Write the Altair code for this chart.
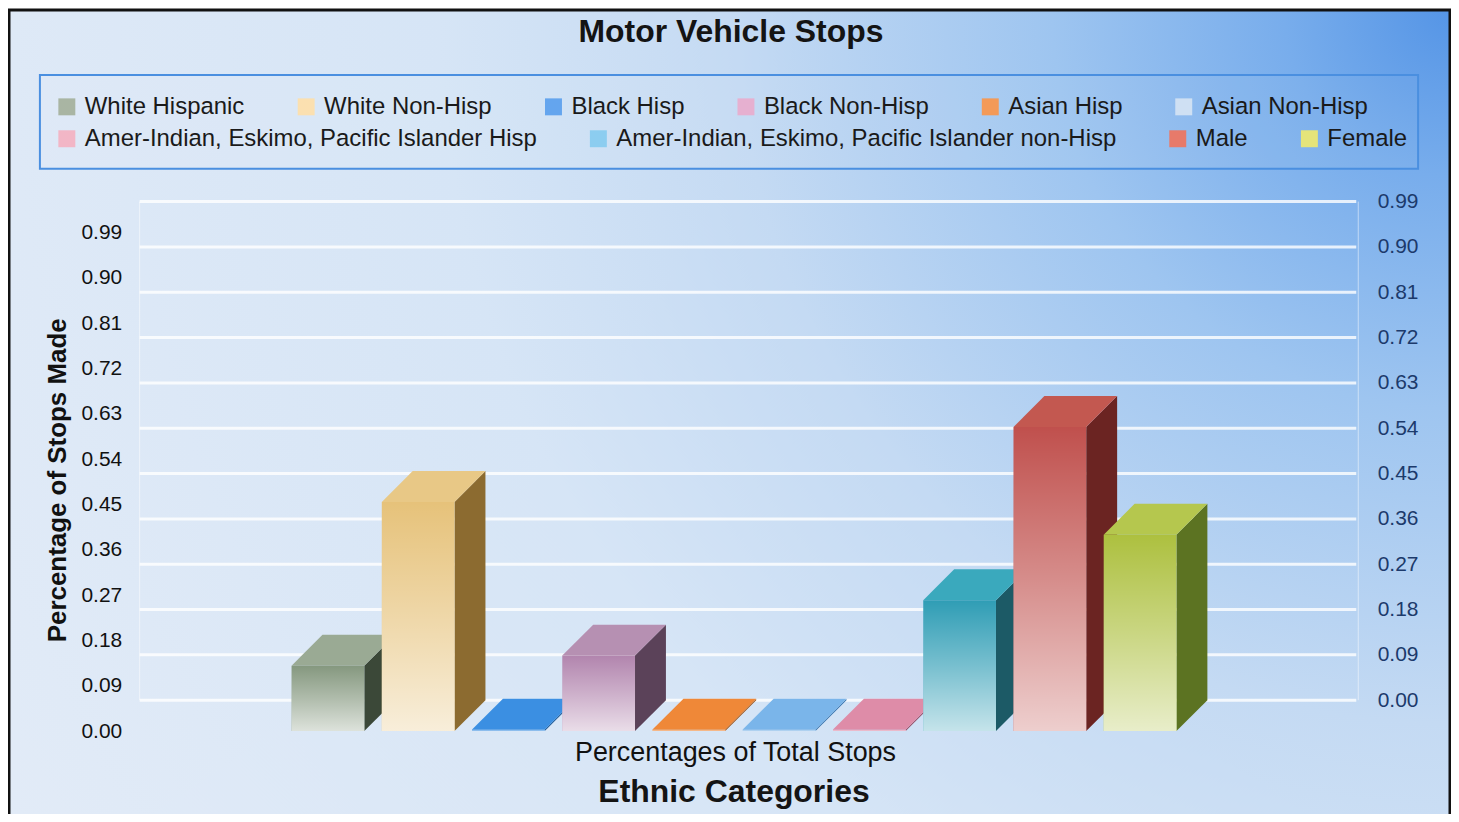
import altair as alt
import pandas as pd

# ---------------- data ----------------
categories = [
    "White Hispanic", "White Non-Hisp", "Black Hisp", "Black Non-Hisp",
    "Asian Hisp", "Asian Non-Hisp",
    "Amer-Indian, Eskimo, Pacific Islander Hisp",
    "Amer-Indian, Eskimo, Pacific Islander non-Hisp",
    "Male", "Female",
]
values = [0.13, 0.455, 0.003, 0.15, 0.003, 0.003, 0.003, 0.26, 0.604, 0.39]
tick_values = [0.00, 0.09, 0.18, 0.27, 0.36, 0.45, 0.54, 0.63, 0.72, 0.81, 0.90, 0.99]
legend_row1 = categories[:6]
legend_row2 = categories[6:]

# ---------------- styles ----------------
front_colors = ["#85987f", "#e6c27a", "#3a8ee0", "#b285ae", "#ee8534",
                "#75b0e6", "#dc88a6", "#2f9db5", "#c0504d", "#adc03f"]
top_colors = ["#9aaa94", "#e8c886", "#3b8fe2", "#b690b2", "#ef8838",
              "#7ab5ea", "#de8ca8", "#3aa9bd", "#c35850", "#b5c74e"]
side_colors = ["#3b4838", "#8c6b30", "#1f5a96", "#5b4259", "#a0561c",
               "#3c78b0", "#95506a", "#1c5a66", "#6b2422", "#5c7322"]
legend_colors = ["#a9b5a3", "#fbe0b0", "#64a5ee", "#e6b0d0", "#f39a58",
                 "#cfe0f3", "#f2b6c6", "#8ccdf0", "#e77a6a", "#e5e47a"]

FONT = "Liberation Sans"
PLOT_W, PLOT_H = 1201, 500
X_DOMAIN = [-2.197, 11.075]
HW = 0.403      # half bar width (x units)
DX = 0.3426     # depth offset (x units)
DY = 0.0614     # depth offset (y units)

df = pd.DataFrame({"cat": categories, "val": values, "idx": list(range(len(categories)))})
tick_df = pd.DataFrame({"tick": tick_values})
one = pd.DataFrame({"a": [0]})

xs = alt.Scale(domain=X_DOMAIN, nice=False, zero=False)
ys = alt.Scale(domain=[0, 0.99], nice=False, zero=False)

x_axis = alt.Axis(labels=False, ticks=False, domain=False, grid=False,
                  title="Percentages of Total Stops", titleFontSize=27,
                  titleFontWeight="normal", titleColor="#111111",
                  titleX=607, titleY=21, titleAlign="center",
                  titleBaseline="middle", zindex=1)
y_axis = alt.Axis(orient="left", values=tick_values, format=".2f",
                  labelFontSize=21, labelColor="#111111", ticks=False,
                  domain=False, grid=False, labelPadding=8,
                  title="Percentage of Stops Made", titleFontSize=26,
                  titleFontWeight="bold", titleColor="#111111",
                  titleX=-72, titleY=248, titleAngle=270,
                  titleAlign="center", titleBaseline="middle", zindex=1)
right_axis = alt.Axis(orient="right", values=tick_values, format=".2f",
                      labelFontSize=21, labelColor="#1c3a6b", ticks=False,
                      domain=False, grid=False, labelPadding=5, offset=45,
                      labelOffset=-31, title=None, zindex=1)

# ---------------- background (square box so the radial glow is circular) ----------------
bg_gradient = alt.Gradient(
    gradient="radial", x1=1, y1=0, r1=0, x2=1, y2=0, r2=1.15,
    stops=[alt.GradientStop(color="#5595e6", offset=0),
           alt.GradientStop(color="#78adec", offset=0.1),
           alt.GradientStop(color="#9ec5f0", offset=0.24),
           alt.GradientStop(color="#c4daf3", offset=0.43),
           alt.GradientStop(color="#d6e5f6", offset=0.61),
           alt.GradientStop(color="#e2ebf7", offset=1)])
bg = alt.Chart(one).mark_rect(fill=bg_gradient, stroke="#111111", strokeWidth=3).encode(
    x=alt.value(-121), x2=alt.value(1324), y=alt.value(-223), y2=alt.value(1222))

walls = alt.Chart(pd.DataFrame({"wx": [10, 1232]})).mark_rule(
    color="#ffffff", strokeWidth=1, opacity=0.5).encode(
    x=alt.X("wx:Q", scale=None), y=alt.value(-31), y2=alt.value(PLOT_H - 31))

grid = alt.Chart(tick_df).mark_rule(color="#ffffff", strokeWidth=3, opacity=0.8,
                                     yOffset=-31).encode(
    y=alt.Y("tick:Q", scale=ys, axis=right_axis),
    x=alt.value(10), x2=alt.value(1230))

# ---------------- 3D bars ----------------
side = alt.Chart(df).transform_calculate(pts="[0, 1]").transform_flatten(["pts"]).transform_calculate(
    sx=f"datum.idx + {HW} + datum.pts * {DX}",
    sy=f"datum.pts * {DY}",
    sy2=f"datum.val + datum.pts * {DY}",
).mark_area(orient="vertical", opacity=1).encode(
    x=alt.X("sx:Q", scale=xs, axis=x_axis),
    y=alt.Y("sy:Q", scale=ys, axis=y_axis, stack=None),
    y2="sy2:Q",
    color=alt.Color("cat:N", scale=alt.Scale(domain=categories, range=side_colors), legend=None),
)

top = alt.Chart(df).transform_calculate(pts="[0, 1]").transform_flatten(["pts"]).transform_calculate(
    ty=f"datum.val + datum.pts * {DY}",
    tx=f"datum.idx - {HW} + datum.pts * {DX}",
    tx2=f"datum.idx + {HW} + datum.pts * {DX}",
).mark_area(orient="horizontal", opacity=1).encode(
    y=alt.Y("ty:Q", scale=ys, axis=y_axis),
    x=alt.X("tx:Q", scale=xs, axis=x_axis, stack=None),
    x2="tx2:Q",
    color=alt.Color("cat:N", scale=alt.Scale(domain=categories, range=top_colors), legend=None),
)

front_base = alt.Chart(df).transform_calculate(
    fx=f"datum.idx - {HW}", fx2=f"datum.idx + {HW}", zero="0")

front = front_base.mark_rect(strokeWidth=0).encode(
    x=alt.X("fx:Q", scale=xs, axis=x_axis),
    x2="fx2:Q",
    y=alt.Y("zero:Q", scale=ys, axis=y_axis, stack=None),
    y2="val:Q",
    color=alt.Color("cat:N", scale=alt.Scale(domain=categories, range=front_colors), legend=None),
)

gloss_gradient = alt.Gradient(
    gradient="linear", x1=0, y1=0, x2=0, y2=1,
    stops=[alt.GradientStop(color="rgba(255,255,255,0)", offset=0),
           alt.GradientStop(color="rgba(255,255,255,0.35)", offset=0.5),
           alt.GradientStop(color="rgba(255,255,255,0.72)", offset=1)])
gloss = front_base.mark_rect(fill=gloss_gradient, strokeWidth=0).encode(
    x=alt.X("fx:Q", scale=xs, axis=x_axis),
    x2="fx2:Q",
    y=alt.Y("zero:Q", scale=ys, axis=y_axis, stack=None),
    y2="val:Q",
)

bars = alt.layer(side, top, front, gloss).resolve_scale(color="independent")

# ---------------- legend ----------------
frame = alt.Chart(one).mark_rect(fill="#ffffff", fillOpacity=0.04, stroke="#4a8fe0",
                                 strokeWidth=2).encode(
    x=alt.value(-90), x2=alt.value(1292), y=alt.value(-158), y2=alt.value(-64))


def legend_layer(cats, cols, ly):
    return alt.Chart(df).transform_filter("false").mark_square(
        size=289, opacity=1, filled=True).encode(
        x=alt.value(0), y=alt.value(0),
        color=alt.Color("cat:N", scale=alt.Scale(domain=cats, range=cols),
                        legend=alt.Legend(orient="none", legendX=-75, legendY=ly,
                                          direction="horizontal", title=None,
                                          symbolType="square", symbolSize=289,
                                          symbolStrokeWidth=0, symbolOpacity=1,
                                          labelFontSize=24, labelFont=FONT,
                                          labelColor="#1a1a1a", columnPadding=49,
                                          labelOffset=6, labelLimit=1000, padding=0)))


leg1 = legend_layer(legend_row1, legend_colors[:6], -138)
leg2 = legend_layer(legend_row2, legend_colors[6:], -106)

# ---------------- titles ----------------
title = alt.Chart(one).mark_text(text="Motor Vehicle Stops", fontSize=32, fontWeight="bold",
                                 font=FONT, color="#141414", align="center",
                                 baseline="middle").encode(x=alt.value(603), y=alt.value(-201))
subtitle = alt.Chart(one).mark_text(text="Ethnic Categories", fontSize=32, fontWeight="bold",
                                    font=FONT, color="#141414", align="center",
                                    baseline="middle").encode(x=alt.value(606), y=alt.value(561))

chart = alt.layer(bg, walls, grid, bars, frame, title, subtitle, leg1, leg2).resolve_scale(
    y="independent", color="independent"
).properties(
    width=PLOT_W, height=PLOT_H,
    padding={"left": 122, "top": 224, "right": 124, "bottom": 82},
    autosize=alt.AutoSizeParams(type="none"),
).configure(font=FONT).configure_view(stroke=None, fill=None)

chart.save("out.html", embed_options={"renderer": "svg", "actions": False})
